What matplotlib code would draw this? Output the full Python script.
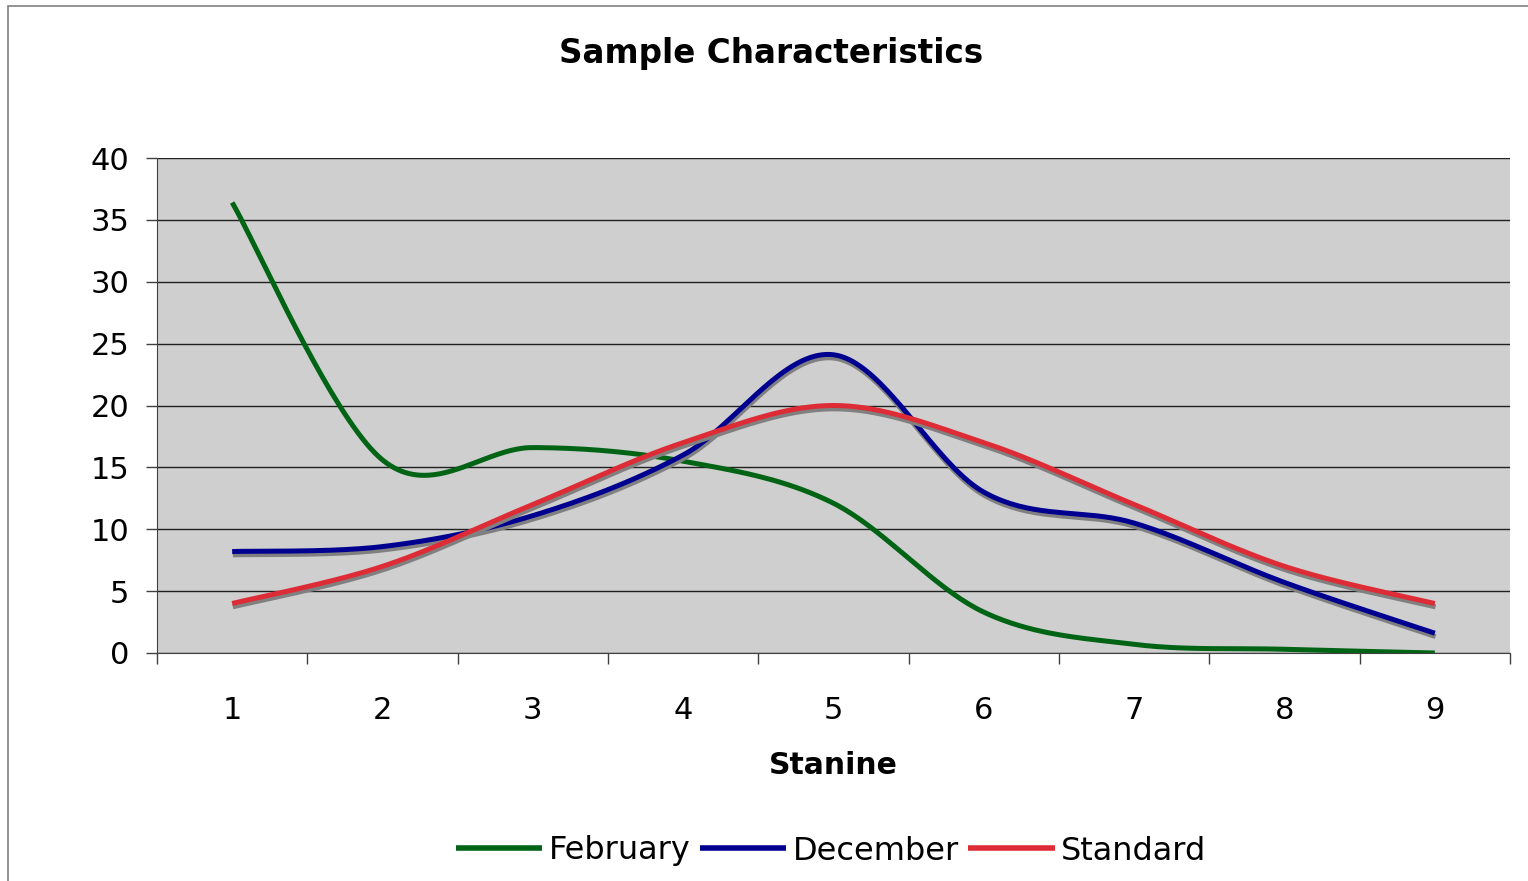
import numpy as np
import matplotlib
matplotlib.use("Agg")
import matplotlib.pyplot as plt
import matplotlib.patheffects as pe
from matplotlib.patches import Rectangle
from matplotlib.lines import Line2D

# stanine categories and the three series
stanine = [1, 2, 3, 4, 5, 6, 7, 8, 9]
february = [36.4, 15.6, 16.6, 15.5, 12.1, 3.3, 0.7, 0.3, 0.0]
december = [8.2, 8.6, 11.1, 16.0, 24.1, 13.0, 10.5, 5.7, 1.6]
standard = [4, 7, 12, 17, 20, 17, 12, 7, 4]

names = ["February", "December", "Standard"]
colors = ["#006414", "#000090", "#DD2C36"]


# Excel-style smoothed line: bezier segments with control points from neighbours
def smooth(xs, ys, n=40):
    p = np.column_stack([xs, ys]).astype(float)
    p = np.vstack([p[0], p, p[-1]])
    out = []
    for i in range(1, len(p) - 2):
        p0 = p[i]
        p3 = p[i + 1]
        p1 = p0 + (p[i + 1] - p[i - 1]) / 6
        p2 = p3 - (p[i + 2] - p[i]) / 6
        t = np.linspace(0, 1, n)[:, None]
        seg = (1 - t) ** 3 * p0 + 3 * (1 - t) ** 2 * t * p1 + 3 * (1 - t) * t ** 2 * p2 + t ** 3 * p3
        out.append(seg if i == 1 else seg[1:])
    out = np.vstack(out)
    return out[:, 0], out[:, 1]


fig = plt.figure(figsize=(15.28, 8.81), dpi=100)
fig.patches.append(Rectangle((8 / 1528, -0.1), 1.1, 1 - 6 / 881 + 0.1, transform=fig.transFigure,
                             fill=False, edgecolor="#808080", lw=1.2, clip_on=False))

ax = fig.add_axes([157 / 1528, 1 - 653 / 881, (1510 - 157) / 1528, 495 / 881])
ax.set_facecolor("#CFCFCF")

lw = 3.6
shadow = [pe.SimpleLineShadow(offset=(0.5, -2.4), shadow_color="#808080", alpha=1.0, rho=1.0), pe.Normal()]
for name, ys, c in zip(names, [february, december, standard], colors):
    sx, sy = smooth(stanine, ys)
    effects = None if name == "February" else shadow
    ax.plot(sx, sy, color=c, lw=lw, solid_capstyle="butt", path_effects=effects, zorder=3)

ax.set_xlim(0.5, 9.5)
ax.set_ylim(0, 40)
ax.set_yticks(range(0, 41, 5))
ax.yaxis.grid(True, color="#202020", lw=1.0)
ax.set_axisbelow(True)

ax.set_xticks(np.arange(0.5, 10, 1))
ax.set_xticklabels([])
ax.set_xticks(stanine, minor=True)
ax.set_xticklabels([str(s) for s in stanine], minor=True)
ax.tick_params(axis="x", which="major", length=8, width=1, color="#404040", direction="out")
ax.tick_params(axis="x", which="minor", length=0, pad=31, labelsize=22)
ax.tick_params(axis="y", length=8, width=1, color="#404040", pad=12, labelsize=22)

for s in ["top", "right"]:
    ax.spines[s].set_visible(False)
ax.spines["left"].set_color("#404040")
ax.spines["bottom"].set_color("#404040")

fig.text(771 / 1528, 1 - 54 / 881, "Sample Characteristics", ha="center", va="center",
         fontsize=23.5, fontweight="bold")
fig.text(833 / 1528, 1 - 765 / 881, "Stanine", ha="center", va="center",
         fontsize=21.5, fontweight="bold")

handles = [Line2D([], [], color=c, lw=4, solid_capstyle="butt") for c in colors]
fig.legend(handles, names, loc="center", bbox_to_anchor=(831 / 1528, 1 - 851 / 881), ncol=3,
           frameon=False, handlelength=2.7, handletextpad=0.2, columnspacing=0.3,
           prop={"family": ["Liberation Sans Narrow", "DejaVu Sans"], "size": 23})

fig.savefig("out.png", dpi=100)
